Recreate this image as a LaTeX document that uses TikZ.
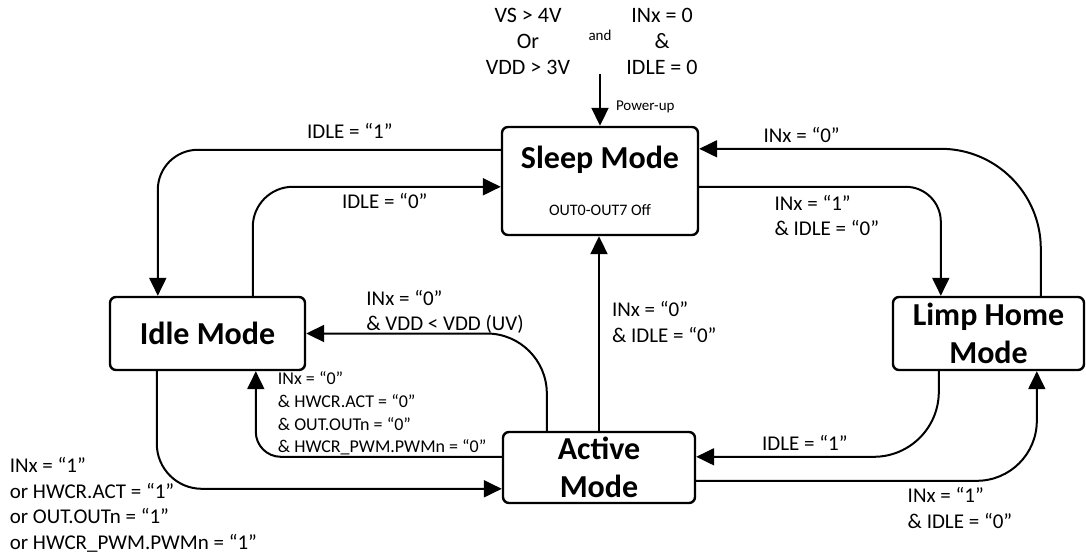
\documentclass[tikz,border=0pt]{standalone}
\usepackage{fontspec}
\setmainfont{Carlito}
\usetikzlibrary{arrows.meta,calc}

\newcommand\modefont{\fontsize{32}{38}\selectfont\bfseries}
\newcommand\subfont{\fontsize{16}{19}\selectfont\mdseries}
\newcommand\condfont{\fontsize{21}{25.5}\selectfont}
\newcommand\smallcond{\fontsize{18}{22.7}\selectfont}
\newcommand\tinycond{\fontsize{15}{18}\selectfont}
\newcommand\topcond{\fontsize{22}{26}\selectfont}

\begin{document}
\begin{tikzpicture}[x=1pt, y=-1pt, line width=2pt, >={Triangle[length=18pt,width=17pt]},
    mode/.style={draw, line width=2.4pt, rounded corners=6pt, align=center, font=\modefont, inner sep=0pt},
    lbl/.style={font=\condfont, align=left, inner sep=0pt},
    smlbl/.style={font=\smallcond, align=left, inner sep=0pt},
    tinylbl/.style={font=\tinycond, inner sep=0pt},
    toplbl/.style={font=\topcond, align=center, inner sep=0pt}]
    \useasboundingbox (0,0) rectangle (1086,556);

    % Modes
    \node [mode, minimum width=196pt, minimum height=108pt] (sleep)  at (600,181)   {Sleep Mode\\[9pt]{\subfont OUT0-OUT7 Off}};
    \node [mode, minimum width=195pt, minimum height=73pt]  (idle)   at (207.5,333.5) {Idle Mode};
    \node [mode, minimum width=192pt, minimum height=71pt]  (active) at (599,467.5) {Active\\Mode};
    \node [mode, minimum width=191pt, minimum height=73pt]  (limp)   at (988.5,333.5) {Limp Home\\Mode};

    % Power-up conditions
    \node [toplbl, anchor=base]  (vcond)   at (528,75) {VS > 4V\\Or\\VDD > 3V};
    \node [tinylbl, anchor=base] (andword) at (600,41) {and};
    \node [toplbl, anchor=base]  (icond)   at (662,75) {INx = 0\\\&\\IDLE = 0};
    \coordinate (pwr) at ($(sleep.north)+(0,-52)$);
    \draw [->] (pwr) -- node[tinylbl, pos=0.71, anchor=base west, xshift=15pt] {Power-up} (sleep.north);

    % Sleep <-> Idle
    \draw [->, rounded corners=40pt] ($(sleep.north west)+(0,24)$) -| node[lbl, pos=0.22, anchor=base, yshift=11pt] {IDLE = “1”} ($(idle.north west)+(49,0)$);
    \draw [->, rounded corners=40pt] ($(idle.north west)+(144,0)$) |- node[lbl, pos=0.766, anchor=base, yshift=-22pt] {IDLE = “0”} ($(sleep.north west)+(0,61)$);

    % Sleep <-> Limp Home
    \draw [->, rounded corners=100pt] ($(limp.north west)+(149,0)$) |- node[lbl, pos=0.85, anchor=base, yshift=6pt] {INx = “0”} ($(sleep.north east)+(0,23)$);
    \draw [->, rounded corners=35pt] ($(sleep.north east)+(0,61)$) -| node[lbl, pos=0.154, anchor=base west, yshift=-49pt] {INx = “1”\\\& IDLE = “0”} ($(limp.north west)+(49,0)$);

    % Active -> Sleep
    \draw [->] (active.north) -- node[lbl, pos=0.454, anchor=base west, xshift=12pt] {INx = “0”\\\& IDLE = “0”} (active.north |- sleep.south);

    % Active <-> Idle
    \draw [->, rounded corners=60pt] ($(active.north west)+(45,0)$) |- node[lbl, pos=0.877, anchor=base west, yshift=3pt] {INx = “0”\\\& VDD < VDD (UV)} (idle.east);
    \draw [->, rounded corners=25pt] ($(active.north west)+(0,26)$) -| node[smlbl, pos=0.457, anchor=base west, yshift=4pt] {INx = “0”\\\& HWCR.ACT = “0”\\\& OUT.OUTn = “0”\\\& HWCR\_PWM.PWMn = “0”} ($(idle.south west)+(147,0)$);
    \draw [->, rounded corners=45pt] ($(idle.south west)+(48,0)$) |- node[lbl, pos=0.5, anchor=base west, xshift=-148pt, yshift=-60.5pt] {INx = “1”\\or HWCR.ACT = “1”\\or OUT.OUTn = “1”\\or HWCR\_PWM.PWMn = “1”} ($(active.north west)+(0,58)$);

    % Limp Home <-> Active
    \draw [->, rounded corners=65pt] ($(limp.south west)+(47,0)$) |- node[lbl, pos=0.776, anchor=base, yshift=6pt] {IDLE = “1”} ($(active.north east)+(0,26)$);
    \draw [->, rounded corners=60pt] ($(active.north east)+(0,50)$) -| node[lbl, pos=0.309, anchor=base west, yshift=-47.5pt] {INx = “1”\\\& IDLE = “0”} ($(limp.south west)+(145,0)$);
\end{tikzpicture}
\end{document}
